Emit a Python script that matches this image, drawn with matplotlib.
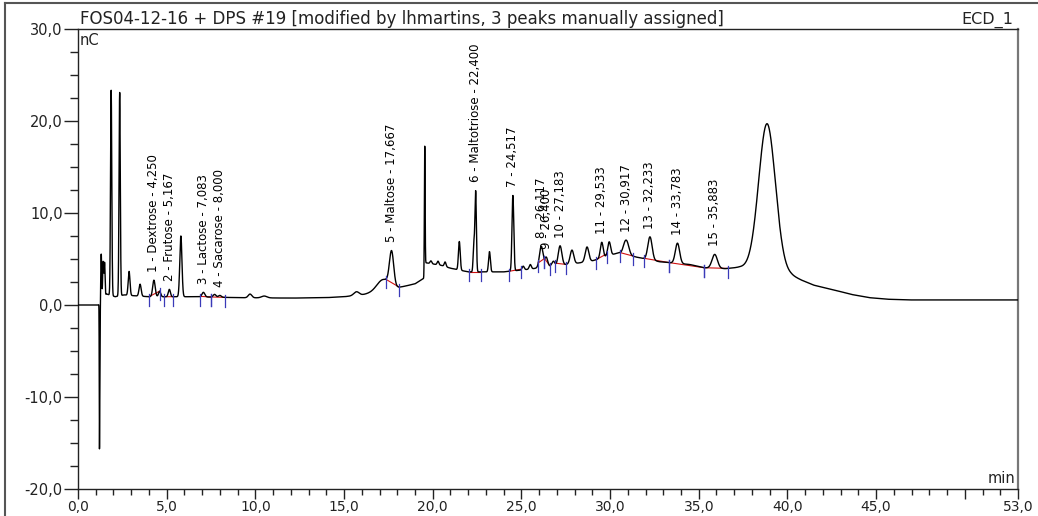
import numpy as np
import matplotlib
matplotlib.use('Agg')
import matplotlib.pyplot as plt
from matplotlib import font_manager
from matplotlib.ticker import MultipleLocator, FixedLocator
from matplotlib.lines import Line2D

# detector drift under the peaks (min, nC)
base_t = [0.0, 1.15, 1.6, 2.1, 2.6, 3.2, 4.0, 6.5, 9.0, 12.0, 14.0, 15.0, 16.0, 17.0, 18.1,
          19.0, 19.5, 19.58, 20.5, 21.0, 22.0, 24.0, 25.5, 26.5, 28.0, 29.0, 30.0, 30.5, 31.5,
          32.8, 34.5, 35.3, 36.5, 37.3, 38.9, 39.7, 40.2, 40.8, 41.5, 42.7, 43.6, 44.6, 45.6,
          46.8, 53.0]
base_v = [0.0, 0.0, 1.2, 0.9, 1.1, 1.0, 0.9, 0.9, 0.8, 0.75, 0.8, 0.9, 1.1, 1.5, 1.9,
          2.3, 2.9, 4.6, 4.3, 4.0, 3.6, 3.6, 3.9, 4.2, 4.5, 4.8, 5.4, 5.7, 5.2,
          4.7, 4.4, 4.05, 3.95, 4.1, 3.9, 3.6, 3.25, 2.7, 2.15, 1.6, 1.15, 0.8, 0.63,
          0.55, 0.55]

# peaks: retention time (min), height above drift (nC), width (min)
peak_t = [1.21, 1.235, 1.31, 1.42, 1.5, 1.87, 2.35, 2.88, 3.5, 4.28, 4.6, 5.15, 5.8, 7.07,
          7.7, 8.0, 9.7, 10.5, 15.7, 17.2, 17.68, 19.55, 19.9, 20.3, 20.7, 21.5, 22.32, 22.42,
          23.2, 24.52, 25.1, 25.5, 26.12, 26.4, 26.8, 27.18, 27.85, 28.7, 29.53, 29.95, 30.8,
          30.95, 32.25, 33.8, 35.9, 38.85]
peak_h = [-14.3, -6.0, 5.1, 4.0, 3.6, 22.3, 22.1, 2.6, 1.3, 1.8, 0.6, 0.8, 6.6, 0.5,
          0.3, 0.2, 0.4, 0.2, 0.4, 1.2, 3.7, 13.3, 0.3, 0.4, 0.5, 3.1, 3.0, 8.7,
          2.2, 8.2, 0.4, 0.5, 2.3, 1.0, 0.5, 2.1, 1.5, 1.6, 1.7, 1.5, 0.6,
          1.3, 2.5, 2.2, 1.5, 15.8]
peak_w = [0.012, 0.015, 0.025, 0.03, 0.025, 0.035, 0.035, 0.05, 0.06, 0.07, 0.06, 0.06, 0.06, 0.08,
          0.08, 0.08, 0.1, 0.15, 0.15, 0.35, 0.12, 0.02, 0.05, 0.05, 0.05, 0.05, 0.04, 0.04,
          0.05, 0.05, 0.06, 0.06, 0.1, 0.08, 0.08, 0.1, 0.1, 0.1, 0.08, 0.08, 0.1,
          0.12, 0.12, 0.12, 0.15, 0.47]

label_t = [4.25, 5.167, 7.083, 8.0, 17.667, 22.4, 24.517, 26.117, 26.4, 27.183,
           29.533, 30.917, 32.233, 33.783, 35.883]
label_text = ["1 - Dextrose - 4,250", "2 - Frutose - 5,167", "3 - Lactose - 7,083",
              "4 - Sacarose - 8,000", "5 - Maltose - 17,667", "6 - Maltotriose - 22,400",
              "7 - 24,517", "8 - 26,117", "9 - 26,400", "10 - 27,183", "11 - 29,533",
              "12 - 30,917", "13 - 32,233", "14 - 33,783", "15 - 35,883"]

# integration limits (min)
int_start = [4.0, 4.85, 6.9, 7.5, 17.35, 22.05, 24.3, 25.95, 26.3, 26.9, 29.2, 30.55, 31.9, 33.35, 35.3]
int_end = [4.6, 5.35, 7.5, 8.3, 18.1, 22.75, 25.0, 26.3, 26.6, 27.5, 29.8, 31.3, 33.35, 35.3, 36.65]

x_major = [0, 5, 10, 15, 20, 25, 30, 35, 40, 45, 50, 53]

names = {f.name for f in font_manager.fontManager.ttflist}
label_font = 'Liberation Sans Narrow' if 'Liberation Sans Narrow' in names else 'DejaVu Sans'
label_size = 10 if label_font == 'Liberation Sans Narrow' else 8.5

t = np.arange(0, 53.0001, 0.005)
sig = np.interp(t, base_t, base_v)
for p, h, w in zip(peak_t, peak_h, peak_w):
    sig = sig + h * np.exp(-(t - p) ** 2 / (2 * w ** 2))

fig = plt.figure(figsize=(10.38, 5.16), dpi=100)
ax = fig.add_axes([78 / 1038, 27 / 516, 940 / 1038, 460 / 516])

ax.plot(t, sig, color='black', lw=1.0, zorder=3)

# integration baselines and delimiters
for a, b in zip(int_start, int_end):
    ya = np.interp(a, t, sig)
    yb = np.interp(b, t, sig)
    ax.plot([a, b], [ya, yb], color='#d01010', lw=0.8, zorder=2)
    for x0, y0 in [(a, ya), (b, yb)]:
        ax.plot([x0, x0], [y0 - 1.0, y0 + 0.3], color='#3a3ab8', lw=0.9, zorder=4)

for lt, txt in zip(label_t, label_text):
    m = (t > lt - 0.12) & (t < lt + 0.12)
    top = sig[m].max()
    ax.text(lt, top + 0.9, txt, rotation=90, ha='center', va='bottom',
            fontsize=label_size, family=label_font, color='black', zorder=5)

ax.set_xlim(0, 53)
ax.set_ylim(-20, 30)

ax.xaxis.set_major_locator(FixedLocator(x_major))
ax.set_xticklabels(['' if v == 50 else f'{v:.1f}'.replace('.', ',') for v in x_major])
ax.xaxis.set_minor_locator(MultipleLocator(1))
ax.yaxis.set_major_locator(MultipleLocator(10))
ax.yaxis.set_minor_locator(MultipleLocator(2.5))
ax.set_yticks(ax.get_yticks())
ax.set_yticklabels([f'{v:.1f}'.replace('.', ',') for v in ax.get_yticks()])
ax.set_ylim(-20, 30)

ax.tick_params(axis='x', which='major', direction='out', length=7, width=1, pad=1,
               labelsize=10, colors='#222222')
ax.tick_params(axis='x', which='minor', direction='out', length=4, width=1, colors='#222222')
ax.tick_params(axis='y', which='major', direction='out', length=10, width=1, pad=1,
               labelsize=10.5, colors='#222222')
ax.tick_params(axis='y', which='minor', direction='out', length=6, width=1, colors='#222222')

for s in ['left', 'bottom', 'top']:
    ax.spines[s].set_color('#222222')
    ax.spines[s].set_linewidth(1.0)
ax.spines['right'].set_color('#777777')
ax.spines['right'].set_linewidth(1.6)

ax.text(0.002, 1.002, 'FOS04-12-16 + DPS #19 [modified by lhmartins, 3 peaks manually assigned]',
        transform=ax.transAxes, ha='left', va='bottom', fontsize=12, color='#222222')
ax.text(0.995, 1.002, 'ECD_1', transform=ax.transAxes, ha='right', va='bottom',
        fontsize=11.5, color='#222222')
ax.text(0.002, 0.992, 'nC', transform=ax.transAxes, ha='left', va='top',
        fontsize=10.5, color='#222222')
ax.text(0.997, 0.006, 'min', transform=ax.transAxes, ha='right', va='bottom',
        fontsize=10.5, color='#222222')

# outer frame of the exported picture
fig.add_artist(Line2D([5 / 1038, 1], [1 - 3 / 516, 1 - 3 / 516], transform=fig.transFigure,
                      color='#555555', lw=1.5))
fig.add_artist(Line2D([5 / 1038, 5 / 1038], [0, 1 - 3 / 516], transform=fig.transFigure,
                      color='#555555', lw=1.5))

fig.savefig('out.png', dpi=100)
